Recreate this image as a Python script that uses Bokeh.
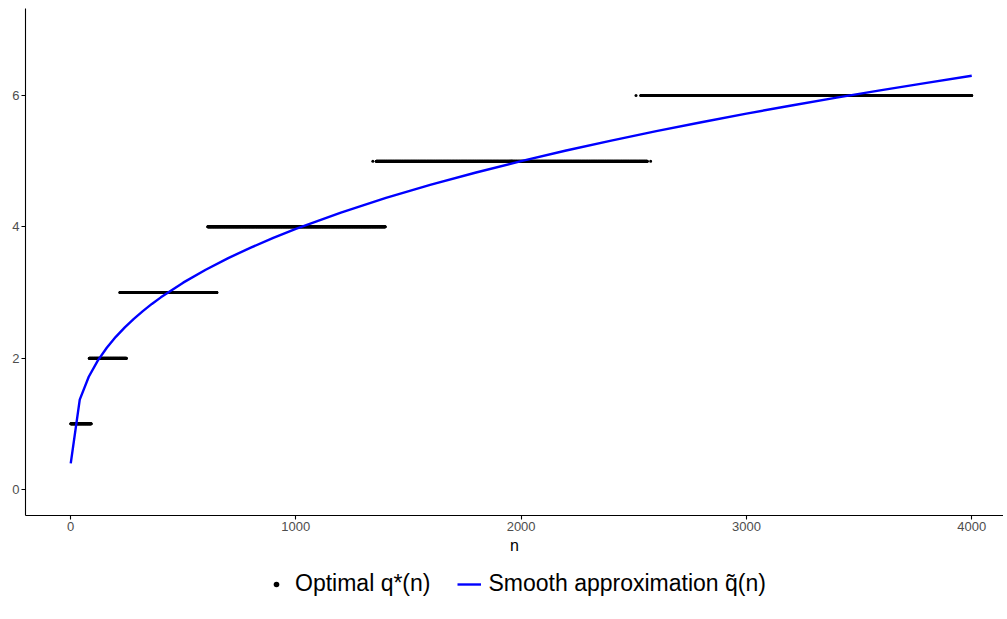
import numpy as np
from bokeh.plotting import figure
from bokeh.layouts import column
from bokeh.models import Range1d, FixedTicker, Legend, LegendItem, ColumnDataSource
from bokeh.embed import file_html
from bokeh.resources import INLINE

# ---- data ----
q_levels = [1, 2, 3, 4, 5, 6]
n_start = [1, 83, 219, 609, 1357, 2531]
n_end = [92, 248, 650, 1397, 2560, 4000]
extra_n = [1342, 2575, 2510]
extra_q = [5, 5, 6]

smooth_n = [1, 41, 81, 121, 161, 201, 241, 281, 321, 361, 401, 500, 600, 700, 800,
            900, 1000, 1200, 1400, 1600, 1800, 2000, 2200, 2400, 2600, 2800, 3000,
            3200, 3400, 3600, 3800, 4000]
smooth_q = [0.397, 1.368, 1.717, 1.963, 2.159, 2.325, 2.470, 2.599, 2.717, 2.826, 2.926,
            3.150, 3.347, 3.524, 3.684, 3.832, 3.969, 4.217, 4.440, 4.642, 4.827, 5.000,
            5.162, 5.313, 5.458, 5.593, 5.724, 5.848, 5.967, 6.082, 6.192, 6.300]

x_ticks = [0, 1000, 2000, 3000, 4000]
y_ticks = [0, 2, 4, 6]
labels = ["Optimal q*(n)", "Smooth approximation q\u0303(n)"]

# build point table
pts_n, pts_q = [], []
for q, a, b in zip(q_levels, n_start, n_end):
    ns = np.arange(a, b + 1)
    pts_n.extend(ns.tolist())
    pts_q.extend([q] * len(ns))
pts_n += extra_n
pts_q += extra_q
pts = ColumnDataSource(dict(n=pts_n, q=pts_q))
sm = ColumnDataSource(dict(n=smooth_n, q=smooth_q))

FONT = "Liberation Sans"
W = 1003

p = figure(width=W, height=561, output_backend="svg", toolbar_location=None,
           x_range=Range1d(-199.8, 4141), y_range=Range1d(-0.396, 7.325),
           min_border_left=25, min_border_right=0, min_border_top=8,
           min_border_bottom=46)
p.outline_line_color = None
p.grid.visible = False

r_pts = p.scatter("n", "q", source=pts, size=3, color="black", line_color=None)
r_line = p.line("n", "q", source=sm, line_color="#0000FF", line_width=2.4)

for ax in (p.xaxis[0], p.yaxis[0]):
    ax.axis_line_color = "black"
    ax.axis_line_width = 1.1
    ax.major_tick_line_color = "black"
    ax.major_tick_line_width = 1.1
    ax.major_tick_in = 0
    ax.major_tick_out = 4
    ax.minor_tick_line_color = None
    ax.major_label_text_color = "#4D4D4D"
    ax.major_label_text_font = FONT
    ax.major_label_text_font_size = "13px"
    ax.major_label_standoff = 2

p.xaxis[0].ticker = FixedTicker(ticks=x_ticks)
p.yaxis[0].ticker = FixedTicker(ticks=y_ticks)
p.xaxis[0].axis_label = "n"
p.xaxis[0].axis_label_text_font = FONT
p.xaxis[0].axis_label_text_font_style = "normal"
p.xaxis[0].axis_label_text_font_size = "16px"
p.xaxis[0].axis_label_text_color = "black"
p.xaxis[0].axis_label_standoff = 3

# legend strip below the plot (its ranges keep the key renderers' data out of view)
lf = figure(width=W, height=50, output_backend="svg", toolbar_location=None,
            x_range=Range1d(-100000, -99999), y_range=Range1d(-100000, -99999),
            min_border_left=0, min_border_right=0, min_border_top=0, min_border_bottom=0)
lf.axis.visible = False
lf.grid.visible = False
lf.outline_line_color = None
key_pts = ColumnDataSource(dict(n=pts_n[:1], q=pts_q[:1]))
d_pts = lf.scatter("n", "q", source=key_pts, size=3, color="black", line_color=None)
d_line = lf.line("n", "q", source=sm, line_color="#0000FF", line_width=2.4)

legend = Legend(items=[LegendItem(label=labels[0], renderers=[d_pts]),
                       LegendItem(label=labels[1], renderers=[d_line])],
                orientation="horizontal", location=(239, 14),
                label_text_font=FONT, label_text_font_size="23px",
                label_text_color="black",
                glyph_width=24, glyph_height=14, label_standoff=7, spacing=27,
                border_line_color=None, background_fill_alpha=0,
                margin=0, padding=4)
lf.add_layout(legend, "center")

open("out.html", "w").write(file_html(column(p, lf), INLINE))
